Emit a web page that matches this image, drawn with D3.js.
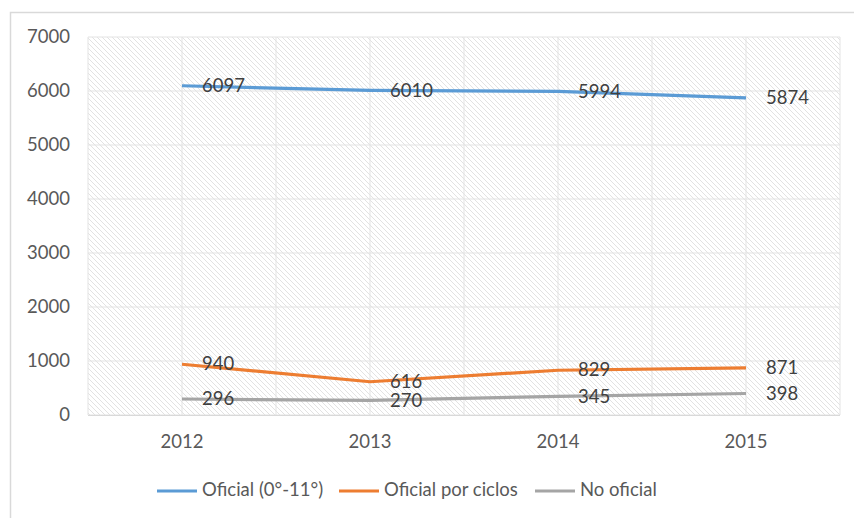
<!DOCTYPE html>
<html><head><meta charset="utf-8">
<script src="https://cdn.jsdelivr.net/npm/d3@7"></script>
<style>body{margin:0;background:#fff}svg{display:block}</style>
</head><body><svg id="c" width="854" height="518"></svg>
<script>
const years = ["2012","2013","2014","2015"];
const oficial = [6097,6010,5994,5874];
const ciclos = [940,616,829,871];
const noOficial = [296,270,345,398];
const seriesNames = ["Oficial (0°-11°)","Oficial por ciclos","No oficial"];
const colors = ["#5B9BD5","#ED7D31","#A5A5A5"];
const yTicks = [0,1000,2000,3000,4000,5000,6000,7000];

const svg = d3.select("#c");
const font = "Lato, 'Open Sans', sans-serif";
const M = {l:88, r:840, t:37, b:415};

// outer border
svg.append("rect").attr("x",10.5).attr("y",12.5).attr("width",900).attr("height",600)
  .attr("fill","#fff").attr("stroke","#d9d9d9").attr("stroke-width",1.5);

const defs = svg.append("defs");
const pat = defs.append("pattern").attr("id","hatch").attr("patternUnits","userSpaceOnUse")
  .attr("width",5).attr("height",5);
pat.append("rect").attr("width",5).attr("height",5).attr("fill","#fff");
pat.append("path").attr("d","M-1,-1 L6,6 M-1,4 L1,6 M4,-1 L6,1").attr("stroke","#e2e2e2").attr("stroke-width",1);

const x = d3.scaleBand().domain(years).range([M.l,M.r]);
const y = d3.scaleLinear().domain([0,7000]).range([M.b,M.t]);
const cx = d => x(d)+x.bandwidth()/2;

svg.append("rect").attr("x",M.l).attr("y",M.t).attr("width",M.r-M.l).attr("height",M.b-M.t).attr("fill","url(#hatch)");

// gridlines
const g = svg.append("g");
yTicks.forEach(t=>{
  g.append("line").attr("x1",M.l).attr("x2",M.r).attr("y1",y(t)).attr("y2",y(t))
    .attr("stroke","#e3e3e3").attr("stroke-width",1);
});
const vx = [];
years.forEach(yr=>{vx.push(x(yr)); vx.push(cx(yr));});
vx.push(M.r);
vx.forEach(v=>{
  g.append("line").attr("x1",v).attr("x2",v).attr("y1",M.t).attr("y2",M.b)
    .attr("stroke","#e3e3e3").attr("stroke-width",1);
});
svg.append("line").attr("x1",M.l).attr("x2",M.r).attr("y1",M.b+0.5).attr("y2",M.b+0.5).attr("stroke","#d9d9d9");

// y labels
const yAxis = d3.axisLeft(y).tickValues(yTicks).tickFormat(d3.format("d")).tickSize(0).tickPadding(18);
const ya = svg.append("g").attr("transform",`translate(${M.l},0)`).call(yAxis);
ya.select(".domain").remove();
ya.selectAll("text").attr("font-family",font).attr("font-size",18.5).attr("fill","#595959");

const xAxis = d3.axisBottom(x).tickSize(0).tickPadding(20);
const xa = svg.append("g").attr("transform",`translate(0,${M.b})`).call(xAxis);
xa.select(".domain").remove();
xa.selectAll("text").attr("font-family",font).attr("font-size",18.5).attr("fill","#595959");

const allSeries = [oficial,ciclos,noOficial];
const line = d3.line().x((d,i)=>cx(years[i])).y(d=>y(d));
allSeries.forEach((s,k)=>{
  svg.append("path").datum(s).attr("d",line).attr("fill","none")
    .attr("stroke",colors[k]).attr("stroke-width",3.2).attr("stroke-linecap","butt");
});
allSeries.forEach((s,k)=>{
  svg.selectAll(null).data(s).enter().append("text")
    .attr("x",(d,i)=>cx(years[i])+20).attr("y",d=>y(d)+1.5)
    .attr("dominant-baseline","middle")
    .attr("font-family",font).attr("font-size",18.5).attr("fill","#404040")
    .text(d=>d);
});

// legend
const legX = [157,339,535];
seriesNames.forEach((n,k)=>{
  svg.append("line").attr("x1",legX[k]).attr("x2",legX[k]+40).attr("y1",491).attr("y2",491)
    .attr("stroke",colors[k]).attr("stroke-width",3.2);
  svg.append("text").attr("x",legX[k]+45).attr("y",491).attr("dominant-baseline","middle")
    .attr("font-family",font).attr("font-size",18.5).attr("fill","#595959").text(n);
});
</script></body></html>
